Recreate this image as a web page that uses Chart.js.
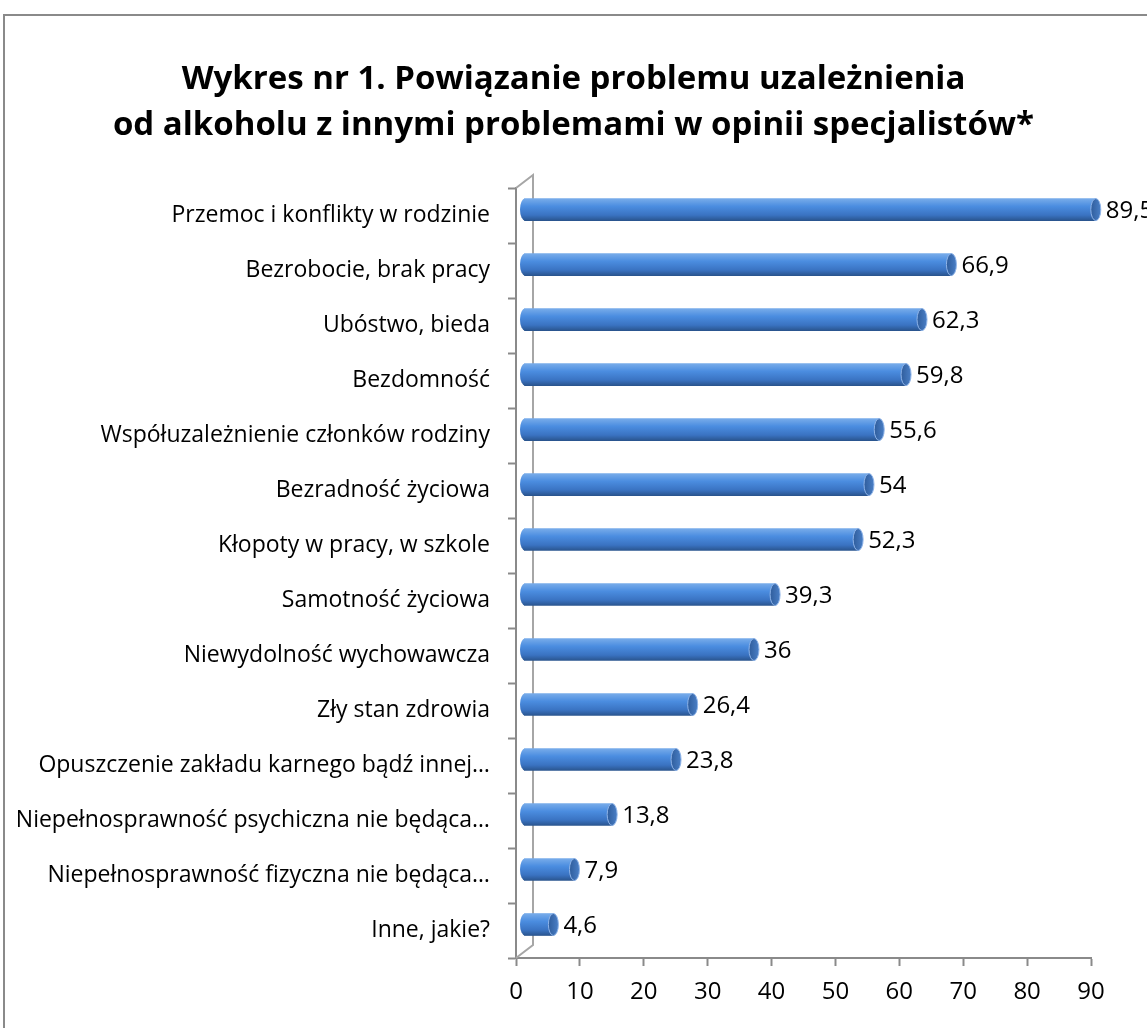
<!DOCTYPE html>
<html lang="pl">
<head>
  <meta charset="UTF-8">
  <title>Wykres nr 1</title>
  <script src="https://cdn.jsdelivr.net/npm/chart.js"></script>
  <style>
    html, body { margin: 0; padding: 0; background: #fff; }
    #wrap { width: 1147px; height: 1028px; position: relative; }
    canvas { display: block; }
  </style>
</head>
<body>
<div id="wrap"><canvas id="chart" width="1147" height="1028"></canvas></div>
<script>
const categories = [
  'Przemoc i konflikty w rodzinie',
  'Bezrobocie, brak pracy',
  'Ubóstwo, bieda',
  'Bezdomność',
  'Współuzależnienie członków rodziny',
  'Bezradność życiowa',
  'Kłopoty w pracy, w szkole',
  'Samotność życiowa',
  'Niewydolność wychowawcza',
  'Zły stan zdrowia',
  'Opuszczenie zakładu karnego bądź innej…',
  'Niepełnosprawność psychiczna nie będąca…',
  'Niepełnosprawność fizyczna nie będąca…',
  'Inne, jakie?'
];
const values = [89.5, 66.9, 62.3, 59.8, 55.6, 54, 52.3, 39.3, 36, 26.4, 23.8, 13.8, 7.9, 4.6];
const titleLines = [
  'Wykres nr 1. Powiązanie problemu uzależnienia',
  'od alkoholu z innymi problemami w opinii specjalistów*'
];

const FONT = "'Open Sans', 'DejaVu Sans', sans-serif";
const DX = 8, DY = -6;   // przesunięcie "3D" słupków
const BAR_H = 22;

function barGradient(ctx, y) {
  if (!Number.isFinite(y)) return '#4d8fe0';
  const g = ctx.createLinearGradient(0, y - BAR_H / 2, 0, y + BAR_H / 2);
  g.addColorStop(0, '#78acea');
  g.addColorStop(0.35, '#4b8de0');
  g.addColorStop(0.75, '#3a73c2');
  g.addColorStop(1, '#2a558f');
  return g;
}

// ramka, tylna ściana, walce i etykiety
const decor = {
  id: 'decor',
  beforeDraw(chart) {
    const c = chart.ctx;
    c.save();
    c.strokeStyle = '#8a8a8a';
    c.lineWidth = 2;
    c.strokeRect(4, 15, 1300, 1200);
    c.restore();
  },
  beforeDatasetsDraw(chart) {
    const c = chart.ctx;
    const a = chart.chartArea;
    c.save();
    c.strokeStyle = '#a6a6a6';
    c.lineWidth = 2;
    c.beginPath();
    c.moveTo(a.left, a.top);
    c.lineTo(a.left + 17, a.top - 13);
    c.lineTo(a.left + 17, a.bottom - 13);
    c.lineTo(a.left, a.bottom);
    c.stroke();
    c.restore();
    c.save();
    c.translate(DX, DY);
  },
  afterDatasetsDraw(chart) {
    const c = chart.ctx;
    const meta = chart.getDatasetMeta(0);
    meta.data.forEach((el, i) => {
      // lewy koniec walca
      c.beginPath();
      c.ellipse(el.base + 0.5, el.y, 5, BAR_H / 2, 0, Math.PI / 2, Math.PI * 1.5);
      c.fillStyle = barGradient(c, el.y);
      c.fill();
      // prawy koniec walca
      c.beginPath();
      c.ellipse(el.x, el.y, 5, BAR_H / 2, 0, 0, Math.PI * 2);
      const g = c.createLinearGradient(el.x - 5, 0, el.x + 5, 0);
      g.addColorStop(0, '#2f5d9c');
      g.addColorStop(1, '#4a7fc6');
      c.fillStyle = g;
      c.fill();
      c.strokeStyle = '#8fb4e8';
      c.lineWidth = 1;
      c.stroke();
      // wartość
      c.fillStyle = '#000';
      c.font = '24px ' + FONT;
      c.textAlign = 'left';
      c.textBaseline = 'middle';
      c.fillText(String(values[i]).replace('.', ','), el.x + 10, el.y + 2);
    });
    c.restore();
  }
};

new Chart(document.getElementById('chart'), {
  type: 'bar',
  data: {
    labels: categories,
    datasets: [{
      data: values,
      backgroundColor: (ctx) => {
        const sc = ctx.chart.scales.y;
        const y = sc ? sc.getPixelForValue(ctx.dataIndex) : NaN;
        return barGradient(ctx.chart.ctx, y);
      },
      borderWidth: 0,
      barThickness: BAR_H,
      clip: false
    }]
  },
  options: {
    indexAxis: 'y',
    responsive: false,
    animation: false,
    layout: { padding: 0 },
    plugins: {
      legend: { display: false },
      tooltip: { enabled: false },
      title: {
        display: true,
        text: titleLines,
        color: '#000',
        font: { family: FONT, size: 33, weight: 'bold', lineHeight: 1.38 },
        padding: { top: 57, bottom: 40 }
      }
    },
    scales: {
      y: {
        afterFit(scale) { scale.width = 516; },
        grid: { drawOnChartArea: false, tickLength: 8, color: '#8a8a8a', tickWidth: 2, offset: true },
        border: { color: '#8a8a8a', width: 2 },
        ticks: { color: '#000', padding: 18, font: { family: FONT, size: 23 } }
      },
      // pusty margines z prawej strony (miejsce na etykietę 89,5)
      yRight: {
        type: 'category',
        position: 'right',
        afterFit(scale) { scale.width = 56; },
        grid: { display: false },
        border: { display: false },
        ticks: { display: false }
      },
      x: {
        min: 0,
        max: 90,
        afterFit(scale) { scale.height = 70; },
        grid: { drawOnChartArea: false, tickLength: 8, color: '#8a8a8a', tickWidth: 2 },
        border: { color: '#8a8a8a', width: 2 },
        ticks: { stepSize: 10, color: '#000', padding: 12, font: { family: FONT, size: 24 } }
      }
    }
  },
  plugins: [decor]
});
</script>
</body>
</html>
